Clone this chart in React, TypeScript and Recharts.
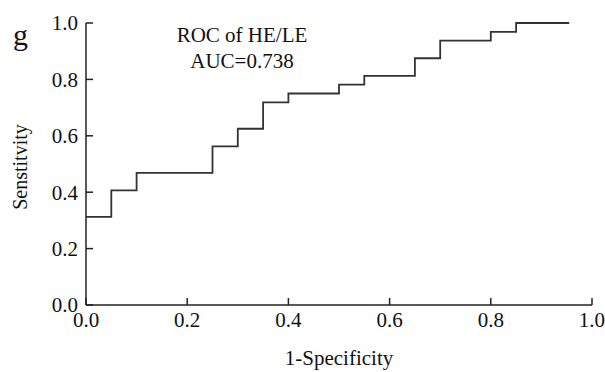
import { LineChart, Line, XAxis, YAxis, Label } from 'recharts'

// false positive rate (1 - specificity) at each step
const fpr = [0, 0.05, 0.1, 0.25, 0.3, 0.35, 0.4, 0.5, 0.55, 0.65, 0.7, 0.8, 0.85, 0.955]
// sensitivity from that point on
const tpr = [0.3125, 0.40625, 0.46875, 0.5625, 0.625, 0.71875, 0.75, 0.78125, 0.8125, 0.875, 0.9375, 0.96875, 1.0, 1.0]
const ticks = [0, 0.2, 0.4, 0.6, 0.8, 1.0]

const data = fpr.map((x, i) => ({ x, y: tpr[i] }))

const font = '"Liberation Serif", "Times New Roman", serif'
const tickStyle = { fontSize: 21, fill: '#111', fontFamily: font }

export default function App() {
  return (
    <div style={{ position: 'absolute', left: 0, top: 0, width: 605, height: 372, background: '#fff' }}>
      <LineChart width={605} height={372} data={data} margin={{ top: 23, right: 13, bottom: 7, left: 0 }}>
        <XAxis
          dataKey="x"
          type="number"
          domain={[0, 1]}
          ticks={ticks}
          tickFormatter={(v) => v.toFixed(1)}
          height={60}
          tickSize={-7}
          tickMargin={14}
          axisLine={{ stroke: '#222', strokeWidth: 1.5 }}
          tickLine={{ stroke: '#222', strokeWidth: 1.5 }}
          tick={tickStyle}
        >
          <Label value="1-Specificity" position="insideBottom" offset={0} style={{ fontSize: 21, fill: '#111', fontFamily: font }} />
        </XAxis>
        <YAxis
          type="number"
          domain={[0, 1]}
          ticks={ticks}
          tickFormatter={(v) => v.toFixed(1)}
          width={86}
          tickSize={-7}
          tickMargin={15}
          axisLine={{ stroke: '#222', strokeWidth: 1.5 }}
          tickLine={{ stroke: '#222', strokeWidth: 1.5 }}
          tick={tickStyle}
        >
          <Label value="Senstitvity" angle={-90} position="insideLeft" offset={20} dy={3} style={{ fontSize: 20, fill: '#111', fontFamily: font, textAnchor: 'middle' }} />
        </YAxis>
        <Line
          type="stepAfter"
          dataKey="y"
          stroke="#333"
          strokeWidth={1.8}
          dot={false}
          isAnimationActive={false}
        />
        <text x={20.5} y={45} textAnchor="middle" fontSize={30} fontFamily={font} fill="#111">g</text>
        <text x={242} y={42} textAnchor="middle" fontSize={21} fontFamily={font} fill="#111">ROC of HE/LE</text>
        <text x={242} y={68} textAnchor="middle" fontSize={21} fontFamily={font} fill="#111">AUC=0.738</text>
      </LineChart>
    </div>
  )
}
